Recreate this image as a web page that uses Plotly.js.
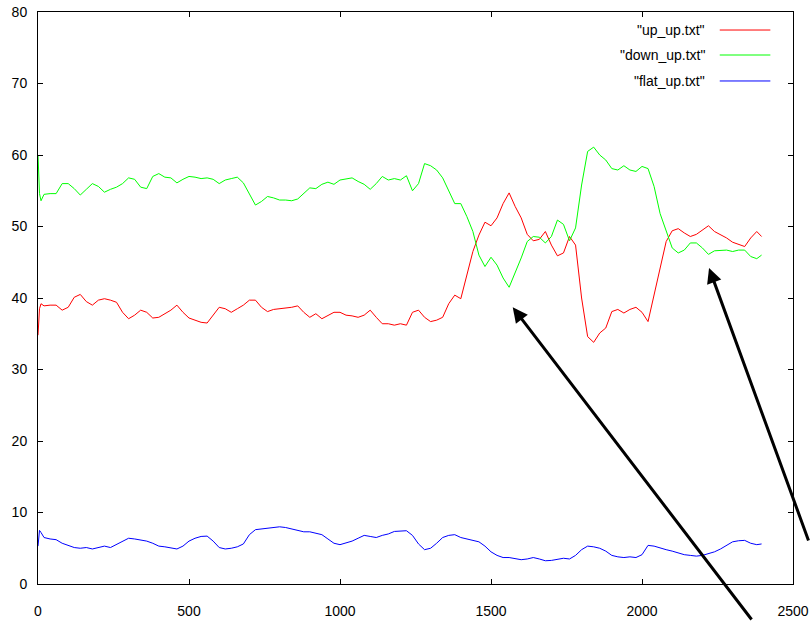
<!DOCTYPE html>
<html>
<head>
<meta charset="utf-8">
<script src="https://cdn.plot.ly/plotly-3.0.1.min.js"></script>
<style>
  html, body { margin: 0; padding: 0; background: #ffffff; }
  #chart { width: 810px; height: 621px; }
</style>
</head>
<body>
<div id="chart"></div>
<script>
// Sample index (time step) shared by all three runs
const steps = [0, 5, 10,
  20, 40, 60, 80, 100, 120, 140, 160, 180, 200, 220, 240, 260, 280, 300, 320, 340, 360, 380, 400,
  420, 440, 460, 480, 500, 520, 540, 560, 580, 600, 620, 640, 660, 680, 700, 720, 740, 760, 780, 800,
  820, 840, 860, 880, 900, 920, 940, 960, 980, 1000, 1020, 1040, 1060, 1080, 1100, 1120, 1140, 1160, 1180, 1200,
  1220, 1240, 1260, 1280, 1300, 1320, 1340, 1360, 1380, 1400, 1420, 1440, 1460, 1480, 1500, 1520, 1540, 1560, 1580, 1600,
  1620, 1640, 1660, 1680, 1700, 1720, 1740, 1760, 1780, 1800, 1820, 1840, 1860, 1880, 1900, 1920, 1940, 1960, 1980, 2000,
  2020, 2040, 2060, 2080, 2100, 2120, 2140, 2160, 2180, 2200, 2220, 2240, 2260, 2280, 2300, 2320, 2340, 2360, 2380, 2396];

// up_up.txt
const upUp = [34.8, 38.5, 39.2,
  38.9, 39.0, 39.0, 38.3, 38.7, 40.1, 40.5, 39.5, 39.0, 39.7, 39.9, 39.7, 39.4, 38.0, 37.1, 37.6, 38.3, 38.0, 37.2, 37.3,
  37.8, 38.3, 39.0, 38.0, 37.2, 36.9, 36.6, 36.5, 37.6, 38.7, 38.5, 38.0, 38.5, 39.0, 39.7, 39.7, 38.7, 38.1, 38.4, 38.5,
  38.5, 38.7, 38.9, 38.0, 37.3, 37.8, 37.1, 37.5, 38.0, 38.0, 37.6, 37.5, 37.3, 37.6, 38.3, 37.3, 36.4, 36.4, 36.2, 36.4,
  36.2, 38.0, 38.3, 37.3, 36.7, 36.9, 37.3, 39.2, 40.4, 39.9, 43.2, 46.5, 48.8, 50.6, 50.1, 51.2, 53.2, 54.7, 52.8, 51.2,
  48.9, 48.0, 48.2, 49.3, 47.4, 45.9, 46.3, 48.6, 47.4, 40.0, 34.6, 33.8, 35.1, 35.8, 38.1, 38.4, 37.9, 38.4, 38.7, 38.0,
  36.7, 40.4, 44.1, 47.9, 49.4, 49.7, 49.1, 48.6, 48.9, 49.5, 50.1, 49.3, 48.9, 48.4, 47.8, 47.5, 47.2, 48.4, 49.3, 48.6];

// down_up.txt
const downUp = [60.0, 54.6, 53.6,
  54.5, 54.6, 54.6, 56.0, 56.0, 55.3, 54.4, 55.2, 56.0, 55.6, 54.8, 55.2, 55.5, 56.0, 56.8, 56.6, 55.5, 55.3, 57.0, 57.4,
  56.9, 56.8, 56.1, 56.6, 57.0, 56.9, 56.7, 56.8, 56.6, 56.0, 56.5, 56.7, 56.9, 56.1, 54.5, 53.0, 53.5, 54.2, 54.0, 53.7,
  53.7, 53.6, 53.85, 54.6, 55.4, 55.3, 55.9, 56.2, 55.9, 56.5, 56.7, 56.8, 56.3, 55.9, 55.2, 56.0, 57.0, 56.5, 56.7, 56.5,
  57.1, 55.0, 56.0, 58.8, 58.5, 57.9, 56.8, 55.1, 53.2, 53.2, 51.4, 49.3, 46.0, 44.4, 45.7, 44.6, 42.8, 41.5, 43.5, 45.6,
  47.9, 48.6, 48.5, 47.7, 48.6, 50.9, 50.3, 48.0, 49.8, 55.8, 60.5, 61.1, 60.0, 59.3, 58.1, 57.9, 58.5, 57.9, 57.7, 58.4,
  58.1, 55.6, 51.8, 49.3, 47.0, 46.3, 46.7, 47.7, 47.7, 47.0, 46.1, 46.6, 46.6, 46.7, 46.5, 46.7, 46.7, 45.8, 45.5, 46.0];

// flat_up.txt
const flatUp = [5.3, 7.5, 7.2,
  6.5, 6.3, 6.2, 5.7, 5.4, 5.1, 5.0, 5.1, 4.9, 5.1, 5.3, 5.1, 5.5, 6.0, 6.4, 6.3, 6.2, 6.0, 5.7, 5.3,
  5.2, 5.1, 4.9, 5.3, 6.0, 6.4, 6.65, 6.7, 6.0, 5.1, 4.9, 5.0, 5.2, 5.6, 6.9, 7.6, 7.7, 7.7, 7.8, 8.0,
  7.9, 7.7, 7.5, 7.3, 7.3, 7.1, 6.9, 6.3, 5.7, 5.5, 5.7, 6.0, 6.4, 6.8, 6.65, 6.5, 6.8, 7.0, 7.35, 7.35,
  7.45, 6.8, 5.6, 4.8, 5.0, 5.7, 6.5, 6.8, 6.9, 6.5, 6.3, 6.05, 5.9, 5.3, 4.5, 4.0, 3.7, 3.7, 3.6, 3.4,
  3.5, 3.7, 3.5, 3.25, 3.3, 3.5, 3.6, 3.5, 4.0, 4.8, 5.3, 5.2, 5.0, 4.6, 4.0, 3.8, 3.7, 3.8, 3.7, 4.1,
  5.4, 5.3, 5.0, 4.8, 4.6, 4.3, 4.1, 4.0, 3.9, 4.0, 4.2, 4.5, 4.9, 5.4, 5.9, 6.05, 6.1, 5.7, 5.5, 5.6];

const seriesNames = ['"up_up.txt"', '"down_up.txt"', '"flat_up.txt"'];
const seriesColors = ['#ff0000', '#00ff00', '#0000ff'];
const seriesValues = [upUp, downUp, flatUp];

// Points the two pointer arrows aim at [step, value]
const arrowTargets = [[1572, 38.7], [2222, 44.2]];

const xTicks = [0, 500, 1000, 1500, 2000, 2500];
const yTicks = [0, 10, 20, 30, 40, 50, 60, 70, 80];

const fontFamily = '"Liberation Sans", Arial, sans-serif';

const traces = seriesValues.map((vals, i) => ({
  type: 'scatter',
  mode: 'lines',
  x: steps,
  y: vals,
  name: seriesNames[i],
  line: { color: seriesColors[i], width: 1 },
  showlegend: false
}));

// gnuplot-style key: label text on the left, sample line on the right
const keyRowsY = [0.9685, 0.9248, 0.8794];
const annotations = [];
const shapes = [];
seriesNames.forEach((name, i) => {
  annotations.push({
    xref: 'paper', yref: 'paper',
    x: 0.886, y: keyRowsY[i],
    xanchor: 'right', yanchor: 'middle',
    text: name, showarrow: false,
    font: { family: fontFamily, size: 14, color: '#000000' }
  });
  shapes.push({
    type: 'line', xref: 'paper', yref: 'paper',
    x0: 0.903, x1: 0.970, y0: keyRowsY[i], y1: keyRowsY[i],
    line: { color: seriesColors[i], width: 1 }
  });
});

// Arrow tails sit on the lower / right edge of the figure (pixel offsets from the tip)
const arrowOffsets = [[240, 316], [100, 274]];
arrowTargets.forEach((t, i) => {
  annotations.push({
    xref: 'x', yref: 'y',
    x: t[0], y: t[1],
    ax: arrowOffsets[i][0], ay: arrowOffsets[i][1],
    text: '', showarrow: true,
    arrowhead: 2, arrowsize: 1, arrowwidth: 3,
    arrowcolor: '#000000', standoff: 0
  });
});

const axisCommon = {
  showgrid: false,
  zeroline: false,
  showline: true,
  linecolor: '#000000',
  linewidth: 1,
  mirror: 'ticks',
  ticks: 'inside',
  ticklen: 5,
  tickwidth: 1,
  tickcolor: '#000000',
  tickfont: { family: fontFamily, size: 14, color: '#000000' }
};

const layout = {
  width: 810,
  height: 621,
  margin: { l: 38, r: 17, t: 12, b: 37 },
  paper_bgcolor: '#ffffff',
  plot_bgcolor: '#ffffff',
  showlegend: false,
  xaxis: Object.assign({}, axisCommon, {
    range: [0, 2500],
    tickmode: 'array',
    tickvals: xTicks,
    ticktext: xTicks.map(String),
    ticklabelstandoff: 14
  }),
  yaxis: Object.assign({}, axisCommon, {
    range: [0, 80],
    tickmode: 'array',
    tickvals: yTicks,
    ticktext: yTicks.map(String),
    ticklabelstandoff: 7
  }),
  annotations: annotations,
  shapes: shapes
};

Plotly.newPlot('chart', traces, layout, { displayModeBar: false, staticPlot: true });
</script>
</body>
</html>
